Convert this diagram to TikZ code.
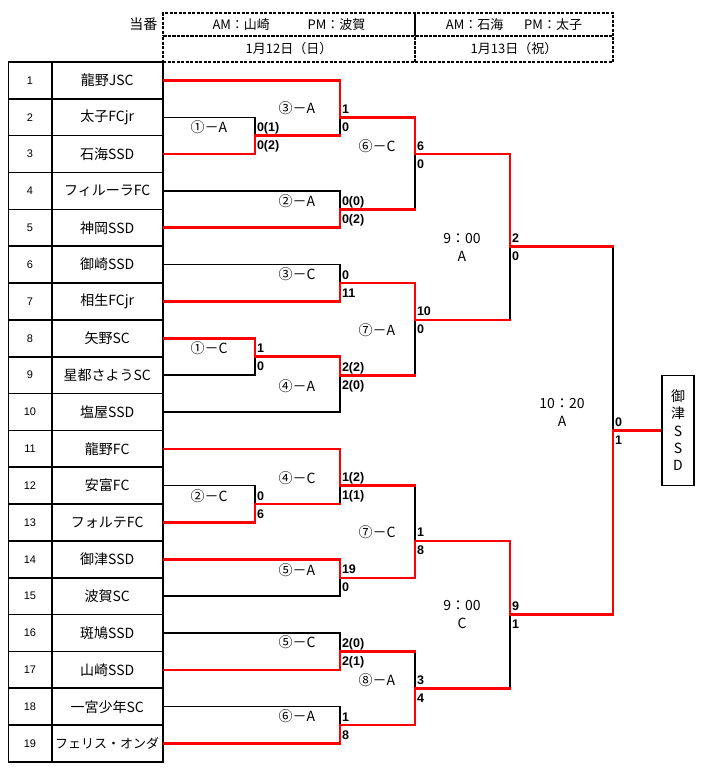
\documentclass[tikz,border=0pt]{standalone}
\usepackage{fontspec}
\setmainfont{Noto Sans CJK JP}
\newfontfamily\scorefont{Liberation Sans}
\usetikzlibrary{positioning}

\begin{document}
\begin{tikzpicture}[x=1pt,y=-1pt,
	numcell/.style={draw,line width=1.6pt,outer sep=0pt,minimum width=43.4pt,minimum height=36.84pt,font=\scorefont\fontsize{11}{13}\selectfont},
	teamcell/.style={draw,line width=1.6pt,outer sep=0pt,inner sep=0pt,minimum width=111pt,minimum height=36.84pt,font=\fontsize{14}{16}\selectfont},
	hdcell/.style={draw,line width=1.1pt,dash pattern=on 3pt off 1.5pt,outer sep=0pt,inner sep=0pt,font=\fontsize{13}{15}\selectfont},
	win/.style={draw=red,line width=2.6pt,line cap=rect},
	lose/.style={draw=black,line width=1.5pt,line cap=rect},
	score/.style={font=\scorefont\bfseries\fontsize{12.5}{14}\selectfont,inner sep=0pt,anchor=base west,xshift=1.8pt},
	match/.style={font=\fontsize{14}{16}\selectfont,inner sep=0pt},
	slot/.style={font=\fontsize{14}{18}\selectfont,align=center,inner sep=0pt},
	champbox/.style={draw,line width=1.6pt,minimum width=32pt,minimum height=110pt,inner sep=0pt,align=center,font=\fontsize{14}{17.3}\selectfont}
	]
	\useasboundingbox (0,0) rectangle (708,771);
	
	\node[hdcell,minimum width=252pt,minimum height=23pt] (am12) at (289,24.5) {AM：山崎\hspace{2.9em}PM：波賀};
	\node[hdcell,minimum width=252pt,minimum height=26pt,below=0pt of am12] (day12) {1月12日（日）};
	\node[hdcell,minimum width=198pt,minimum height=23pt,right=0pt of am12] (am13) {AM：石海\hspace{1.6em}PM：太子};
	\node[hdcell,minimum width=198pt,minimum height=26pt,below=0pt of am13] (day13) {1月13日（祝）};
	\node[font=\fontsize{14}{16}\selectfont,left=2pt of am12] (toban) {当番};
	
	\foreach \nm [count=\i] in {龍野JSC,太子FCjr,石海SSD,フィルーラFC,神岡SSD,御崎SSD,相生FCjr,矢野SC,星都さようSC,塩屋SSD,龍野FC,安富FC,フォルテFC,御津SSD,波賀SC,斑鳩SSD,山崎SSD,一宮少年SC,{\fontsize{13}{15}\selectfont フェリス・オンダ}}
	{
		\node[numcell] (n\i) at (30,{62+36.84*(\i-0.5)}) {\i};
		\node[teamcell,right=0pt of n\i] (t\i) {\nm};
	}
	
	\foreach \j/\x/\y in {j1A/255/135.7,j3A/340/117.3,j2A/340/209.4,j6C/415/154.1,j3C/340/283,j1C/255/356.7,j4A/340/375.2,j7A/415/319.9,sA/510/246.2,
		j2C/255/504.1,j4C/340/485.7,j5A/340/577.8,j7C/415/540.9,j5C/340/651.4,j6A/340/725.1,j8A/415/688.3,sC/510/614.6,fin/613/430.4}
		\coordinate (\j) at (\x,\y);
	
	\node[champbox] (yusho) at (678,430.4) {御\\津\\S\\S\\D};
	
	\foreach \a/\b in {t2/j1A,t4/j2A,t6/j3C,t9/j1C,t10/j4A,t12/j2C,t15/j5A,t16/j5C,t18/j6A}
		\draw[lose] (\a.east) -| (\b);
	\foreach \a/\b in {j1A/j3A,j2A/j6C,j4A/j7A,j7A/sA,j2C/j4C,j4C/j7C,j5C/j8A,j8A/sC,sA/fin}
		\draw[lose] (\a -| \b) -- (\b);
	\foreach \a/\b in {j1A/j3A,j2A/j6C,j4A/j7A,j7A/sA,j2C/j4C,j4C/j7C,j5C/j8A,j8A/sC,sA/fin}
		\draw[win] (\a) -- (\a -| \b);
	\foreach \a/\b in {t3/j1A,t1/j3A,t5/j2A,t7/j3C,t8/j1C,t13/j2C,t11/j4C,t14/j5A,t17/j5C,t19/j6A}
		\draw[win,shorten <=1.3pt] (\a.east) -| (\b);
	\foreach \a/\b in {j3A/j6C,j6C/sA,j1C/j4A,j3C/j7A,j5A/j7C,j7C/sC,j6A/j8A,sC/fin}
		\draw[win] (\a) -| (\b);
	\draw[win,shorten >=1.3pt] (fin) -- (yusho.west);
	
	\foreach \j/\u/\d in {j1A/0(1)/0(2),j3A/1/0,j2A/0(0)/0(2),j6C/6/0,j3C/0/11,j1C/1/0,j4A/2(2)/2(0),j7A/10/0,sA/2/0,
		j2C/0/6,j4C/1(2)/1(1),j5A/19/0,j7C/1/8,j5C/2(0)/2(1),j6A/1/8,j8A/3/4,sC/9/1,fin/0/1}
	{
		\node[score,yshift=4pt] (\j-u) at (\j) {\u};
		\node[score,yshift=-14pt] (\j-d) at (\j) {\d};
	}
	
	\foreach \n/\x/\y/\t in {l1A/209/127/①－A,l3A/297/108/③－A,l2A/297/201/②－A,l6C/377/146/⑥－C,l3C/297/274/③－C,l1C/209/348/①－C,l4A/297/386/④－A,l7A/377/330/⑦－A,
		l2C/209/496/②－C,l4C/297/478/④－C,l5A/297/570/⑤－A,l7C/377/532/⑦－C,l5C/297/642/⑤－C,l6A/297/716/⑥－A,l8A/377/680/⑧－A}
		\node[match] (\n) at (\x,\y) {\t};
	
	\node[slot] (timeA) at (462,247) {9：00\\A};
	\node[slot] (timeC) at (462,615) {9：00\\C};
	\node[slot] (timeF) at (562,412) {10：20\\A};
\end{tikzpicture}
\end{document}
